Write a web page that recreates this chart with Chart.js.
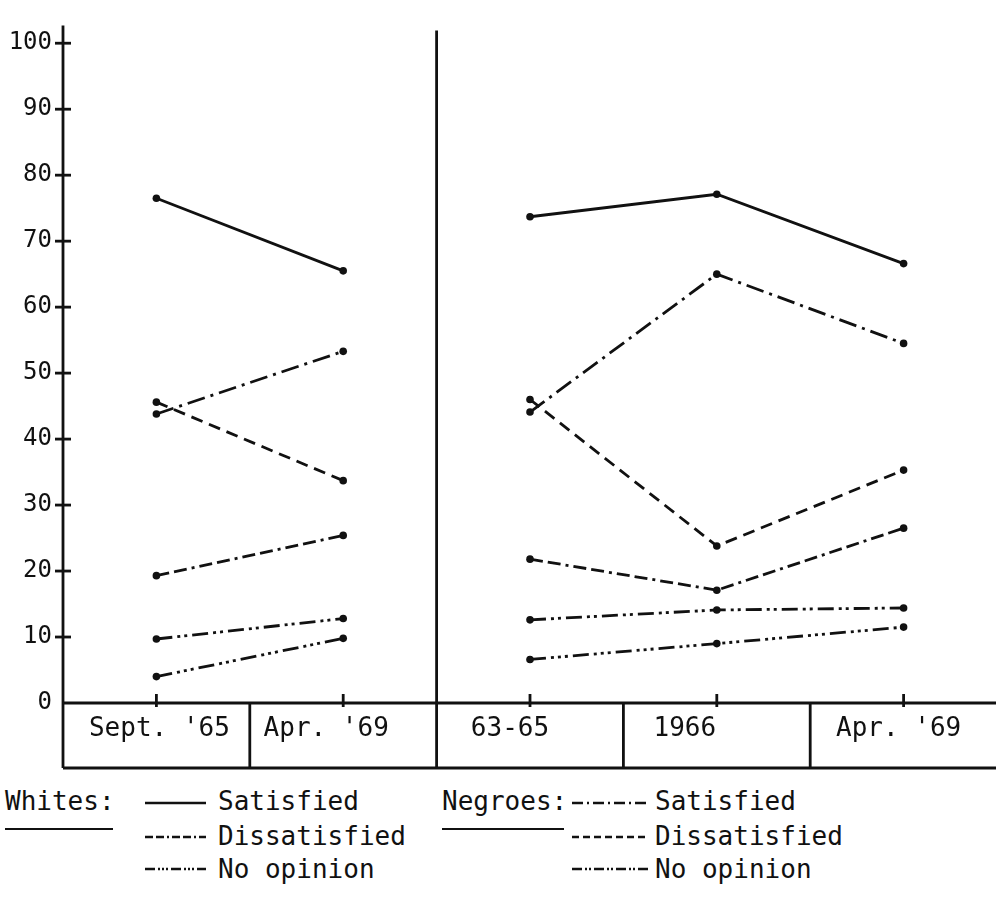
<!DOCTYPE html>
<html><head><meta charset="utf-8">
<script src="https://cdn.jsdelivr.net/npm/chart.js@4/dist/chart.umd.min.js"></script>
<style>
html,body{margin:0;padding:0;background:#fff;width:996px;height:900px;overflow:hidden;}
#wrap{position:relative;width:996px;height:900px;overflow:hidden;}
#c{position:absolute;left:0;top:0;}
.lg{position:absolute;font-family:"DejaVu Sans Mono",monospace;font-size:26px;line-height:26px;color:#111;white-space:pre;}
.ul{position:absolute;height:2px;background:#111;}
.smp{position:absolute;overflow:visible;}
</style></head><body>
<div id="wrap"><canvas id="c" width="1001" height="780"></canvas></div>
<script>
// ---- data ----
const categories = ["Sept. '65", "Apr. '69", "63-65", "1966", "Apr. '69"];
const yTicks = [0, 10, 20, 30, 40, 50, 60, 70, 80, 90, 100];

// left panel: Sept. '65, Apr. '69
const whitesSatisfiedL     = [76.5, 65.5];
const whitesDissatisfiedL  = [19.3, 25.4];
const whitesNoOpinionL     = [4.0, 9.8];
const negroesSatisfiedL    = [43.8, 53.3];
const negroesDissatisfiedL = [45.6, 33.7];
const negroesNoOpinionL    = [9.7, 12.8];

// right panel: 63-65, 1966, Apr. '69
const whitesSatisfiedR     = [73.7, 77.1, 66.6];
const whitesDissatisfiedR  = [21.8, 17.1, 26.5];
const whitesNoOpinionR     = [6.6, 9.0, 11.5];
const negroesSatisfiedR    = [44.1, 65.0, 54.5];
const negroesDissatisfiedR = [46.0, 23.8, 35.3];
const negroesNoOpinionR    = [12.6, 14.1, 14.4];

const legendGroups = ["Whites:", "Negroes:"];
const legendLabels = ["Satisfied", "Dissatisfied", "No opinion"];

// ---- styles ----
const INK = '#111';
const dashes = {
  wS: [], wD: [13,5,13,5,3,5], wN: [16,5,3,4,3,4,3,5],
  nS: [18,6,3,6], nD: [12,7], nN: [16,5,3,4,3,5]
};
const series = [
  {key:'wS', name:'Whites: Satisfied',     L: whitesSatisfiedL,     R: whitesSatisfiedR},
  {key:'wD', name:'Whites: Dissatisfied',  L: whitesDissatisfiedL,  R: whitesDissatisfiedR},
  {key:'wN', name:'Whites: No opinion',    L: whitesNoOpinionL,     R: whitesNoOpinionR},
  {key:'nS', name:'Negroes: Satisfied',    L: negroesSatisfiedL,    R: negroesSatisfiedR},
  {key:'nD', name:'Negroes: Dissatisfied', L: negroesDissatisfiedL, R: negroesDissatisfiedR},
  {key:'nN', name:'Negroes: No opinion',   L: negroesNoOpinionL,    R: negroesNoOpinionR}
];
const labelShift = [3, -17, -20, -32, -5];

function ds(name, data, dash) {
  return {label:name, data, borderColor:INK, borderWidth:2.8, borderDash:dash,
    pointRadius:3.8, pointBackgroundColor:INK, pointBorderWidth:0, spanGaps:false, tension:0, fill:false};
}
const datasets = series.flatMap(s => [
  ds(s.name, [...s.L, null, null, null], dashes[s.key]),
  ds(s.name, [null, null, ...s.R], dashes[s.key])
]);

const frame = {
  id:'frame',
  afterDraw(chart) {
    const ctx = chart.ctx, x = chart.scales.x, y = chart.scales.y, a = chart.chartArea;
    const y0 = y.getPixelForValue(0), boxBottom = 768;
    ctx.save();
    ctx.strokeStyle = INK; ctx.lineWidth = 2.8; ctx.setLineDash([]);
    ctx.beginPath(); ctx.moveTo(a.left, a.top); ctx.lineTo(a.left, boxBottom); ctx.stroke();
    ctx.beginPath(); ctx.moveTo(a.left, y0); ctx.lineTo(a.right, y0); ctx.stroke();
    ctx.beginPath(); ctx.moveTo(a.left, boxBottom); ctx.lineTo(a.right, boxBottom); ctx.stroke();
    yTicks.forEach(v => { if (v === 0) return; const p = y.getPixelForValue(v);
      ctx.beginPath(); ctx.moveTo(a.left - 8, p); ctx.lineTo(a.left + 8, p); ctx.stroke(); });
    for (let i = 0; i < categories.length; i++) {
      const p = x.getPixelForTick(i);
      ctx.beginPath(); ctx.moveTo(p, y0 - 9); ctx.lineTo(p, y0 + 4); ctx.stroke();
    }
    for (let i = 0; i < categories.length - 1; i++) {
      const b = (x.getPixelForTick(i) + x.getPixelForTick(i + 1)) / 2;
      ctx.beginPath(); ctx.moveTo(b, i === 1 ? a.top + 5 : y0); ctx.lineTo(b, boxBottom); ctx.stroke();
    }
    ctx.fillStyle = INK; ctx.font = '26px "DejaVu Sans Mono"'; ctx.textAlign = 'center'; ctx.textBaseline = 'alphabetic';
    categories.forEach((c, i) => ctx.fillText(c, x.getPixelForTick(i) + labelShift[i], 736));
    ctx.restore();
  }
};

new Chart(document.getElementById('c'), {
  type:'line',
  data:{labels:categories, datasets},
  options:{
    responsive:false, animation:false, devicePixelRatio:1,
    layout:{padding:{top:20,left:0,right:0,bottom:0}},
    plugins:{legend:{display:false}, tooltip:{enabled:false}},
    scales:{
      x:{type:'category', offset:true, grid:{display:false, drawTicks:false}, border:{display:false},
         ticks:{display:false}, afterFit(s){ s.height = 77; }},
      y:{min:0, max:102.7, grid:{display:false, drawTicks:false}, border:{display:false},
         afterBuildTicks(s){ s.ticks = yTicks.map(v => ({value:v})); },
         ticks:{font:{family:'DejaVu Sans Mono', size:24}, color:INK, padding:11},
         afterFit(s){ s.width = 63; }}
    }
  },
  plugins:[frame]
});

// ---- legend (HTML) ----
const wrap = document.getElementById('wrap');
const groupX = [5, 442], groupW = [108, 122];
const sampleX = [[145, 206], [572, 648]];
const textX = [218, 655];
const rowTop = [788, 823, 856];
const rowLine = [803, 837, 869];
const keys = [['wS','wD','wN'], ['nS','nD','nN']];
function addText(txt, left, top) {
  const d = document.createElement('div'); d.className = 'lg'; d.textContent = txt;
  d.style.left = left + 'px'; d.style.top = top + 'px'; wrap.appendChild(d);
}
legendGroups.forEach((g, gi) => {
  addText(g, groupX[gi], rowTop[0]);
  const u = document.createElement('div'); u.className = 'ul';
  u.style.left = groupX[gi] + 'px'; u.style.top = '828px'; u.style.width = groupW[gi] + 'px'; wrap.appendChild(u);
  legendLabels.forEach((lab, ri) => {
    const [x1, x2] = sampleX[gi];
    const svg = document.createElementNS('http://www.w3.org/2000/svg', 'svg');
    svg.setAttribute('class', 'smp'); svg.setAttribute('width', x2 - x1); svg.setAttribute('height', 6);
    svg.style.left = x1 + 'px'; svg.style.top = (rowLine[ri] - 3) + 'px';
    const ln = document.createElementNS('http://www.w3.org/2000/svg', 'line');
    ln.setAttribute('x1', 0); ln.setAttribute('x2', x2 - x1); ln.setAttribute('y1', 3); ln.setAttribute('y2', 3);
    ln.setAttribute('stroke', INK); ln.setAttribute('stroke-width', 2.5);
    const dsh = dashes[keys[gi][ri]];
    if (dsh.length) ln.setAttribute('stroke-dasharray', dsh.map(v => Math.max(2, Math.round(v * 0.6))).join(' '));
    svg.appendChild(ln); wrap.appendChild(svg);
    addText(lab, textX[gi], rowTop[ri]);
  });
});
</script>
</body></html>
